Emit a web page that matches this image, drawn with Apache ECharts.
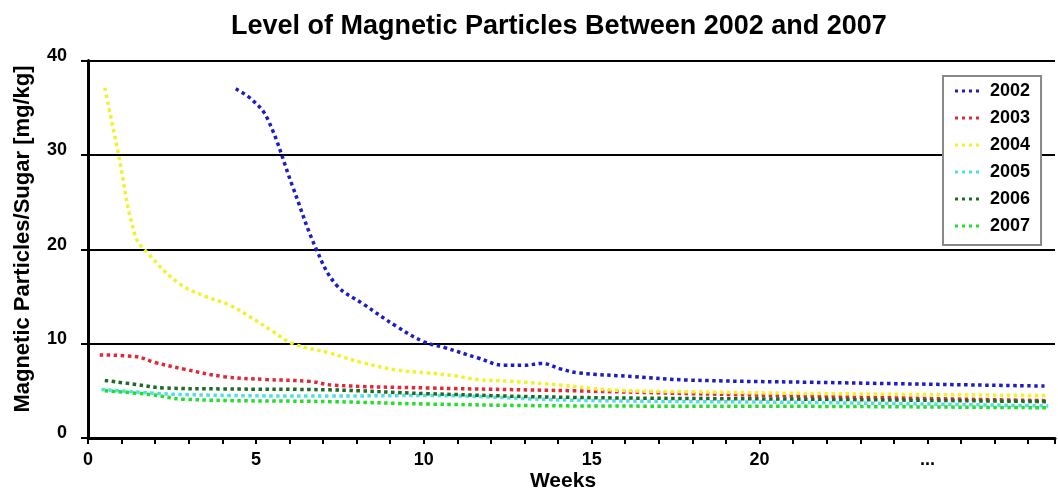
<!DOCTYPE html>
<html><head><meta charset="utf-8">
<script src="https://cdn.jsdelivr.net/npm/echarts@6/dist/echarts.min.js"></script>
<style>html,body{margin:0;padding:0;background:#fff}#c{width:1058px;height:490px}</style>
</head><body><div id="c"></div>
<script>
const titleText = 'Level of Magnetic Particles Between 2002 and 2007';
const yName = 'Magnetic Particles/Sugar [mg/kg]';
const xName = 'Weeks';
const years = ['2002', '2003', '2004', '2005', '2006', '2007'];
const colors = ['#1c1cc8', '#e02838', '#f2f22a', '#4ee0e0', '#1f6a24', '#22e02a'];
const xTickLabels = {0: '0', 5: '5', 10: '10', 15: '15', 20: '20', 25: '...'};

const s2002 = [[4.4,37.0],[4.9,35.8],[5.35,33.8],[6.1,26.6],[6.8,20.0],[7.4,16.2],[8.2,14.2],[9.2,11.8],[10.0,10.2],[10.6,9.6],[11.6,8.5],[12.4,7.7],[13.0,7.7],[13.5,7.9],[14.1,7.3],[14.6,6.9],[16.3,6.5],[17.8,6.15],[21.6,5.9],[28.5,5.5]];
const s2003 = [[0.35,8.8],[1.45,8.6],[2.0,8.0],[2.86,7.3],[4.05,6.5],[5.3,6.2],[6.6,6.0],[7.3,5.6],[10.1,5.3],[14.5,5.0],[18.0,4.7],[21.8,4.4],[28.6,3.95]];
const s2004 = [[0.5,37.1],[0.9,30.2],[1.4,21.5],[1.8,19.5],[2.7,16.4],[3.5,15.0],[4.2,14.1],[4.8,12.9],[5.5,11.3],[6.1,10.0],[7.2,9.0],[8.15,8.0],[9.2,7.2],[10.1,6.9],[10.9,6.6],[11.6,6.2],[12.6,6.0],[14.1,5.6],[15.5,5.1],[18.0,4.9],[22.0,4.7],[28.6,4.5]];
const s2005 = [[0.4,5.15],[2.86,4.6],[7.3,4.45],[10.1,4.5],[14.5,4.0],[21.8,3.75],[28.6,3.4]];
const s2006 = [[0.5,6.1],[1.37,5.7],[2.26,5.3],[4.0,5.2],[7.2,5.1],[10.1,4.7],[14.5,4.3],[21.8,4.1],[28.6,3.85]];
const s2007 = [[0.5,5.0],[1.87,4.6],[2.86,4.1],[7.3,3.85],[10.1,3.6],[14.5,3.4],[21.8,3.35],[28.6,3.2]];
const seriesData = [s2002, s2003, s2004, s2005, s2006, s2007];

const FF = '"Liberation Sans", Arial, sans-serif';
const dotIcon = 'path://M0,0h3v3h-3zM7,0h3v3h-3zM14,0h3v3h-3zM21,0h3v3h-3z';
const chart = echarts.init(document.getElementById('c'), null, {renderer: 'canvas'});
chart.setOption({
  animation: false,
  backgroundColor: '#fff',
  title: {
    text: titleText, left: 226, top: 8,
    textStyle: {fontFamily: FF, fontSize: 27, fontWeight: 'bold', color: '#000'}
  },
  grid: {left: 88, right: 0, top: 60.5, bottom: 52, containLabel: false},
  legend: {
    data: years.map(y => ({name: y, icon: dotIcon})),
    orient: 'vertical', left: 943, top: 76,
    itemWidth: 24, itemHeight: 3.5, itemGap: 9,
    padding: [6, 11, 10, 12],
    borderColor: '#888', borderWidth: 2, backgroundColor: '#fff',
    textStyle: {fontFamily: FF, fontSize: 18, fontWeight: 'bold', color: '#000', padding: [0, 0, 0, 6]}
  },
  xAxis: {
    type: 'value', min: 0, max: 28.8, interval: 1,
    axisLine: {onZero: false, lineStyle: {color: '#000', width: 3}},
    axisTick: {show: true, length: 6, lineStyle: {color: '#000', width: 2}},
    splitLine: {show: false},
    axisLabel: {
      margin: 13, color: '#000', fontFamily: FF, fontSize: 18, fontWeight: 'bold',
      formatter: v => (xTickLabels[v] !== undefined ? xTickLabels[v] : '')
    }
  },
  yAxis: {
    type: 'value', min: 0, max: 40, interval: 10,
    axisLine: {show: true, lineStyle: {color: '#000', width: 3}},
    axisTick: {show: true, length: 7, lineStyle: {color: '#000', width: 2}},
    splitLine: {show: true, lineStyle: {color: '#000', width: 2}},
    axisLabel: {
      margin: 21, color: '#000', fontFamily: FF, fontSize: 18, fontWeight: 'bold',
      verticalAlign: 'bottom', lineHeight: 9
    }
  },
  graphic: [
    {type: 'text', x: 23, y: 239, rotation: Math.PI / 2,
     style: {text: yName, fill: '#000', font: 'bold 22px ' + FF, align: 'center', verticalAlign: 'middle'}},
    {type: 'text', x: 563, y: 481,
     style: {text: xName, fill: '#000', font: 'bold 21px ' + FF, align: 'center', verticalAlign: 'middle'}}
  ],
  series: years.map((y, i) => ({
    name: y, type: 'line', data: seriesData[i],
    symbol: 'none', smooth: 0.4,
    color: colors[i],
    lineStyle: {color: colors[i], width: 3.5, type: [3.5, 3.5]}
  }))
});
</script></body></html>
